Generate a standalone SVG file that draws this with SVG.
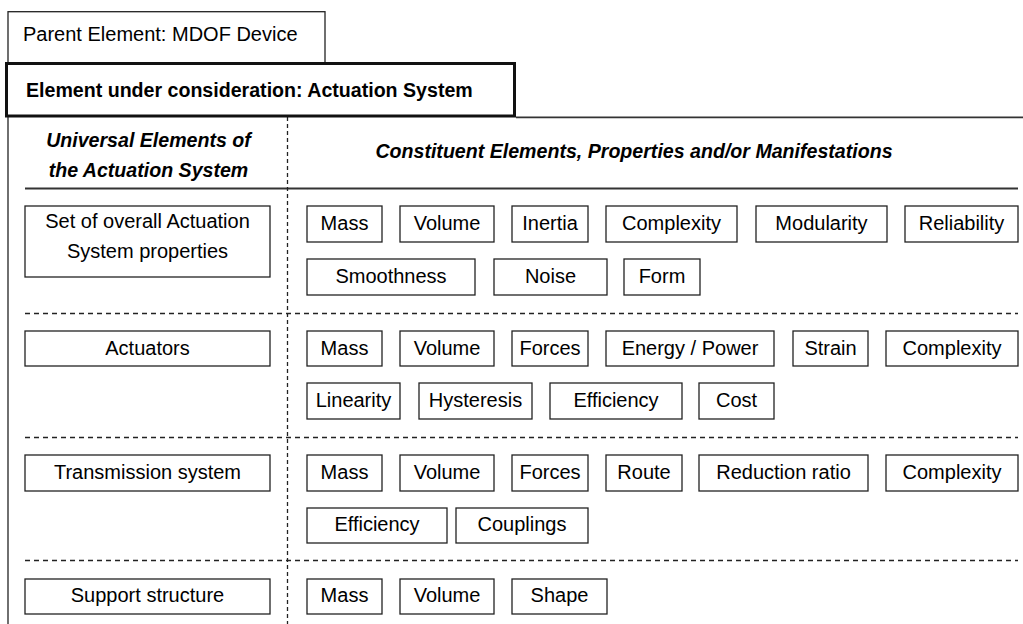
<svg xmlns="http://www.w3.org/2000/svg" width="1023" height="624" viewBox="0 0 1023 624">
<style>
  .bg{fill:#fff}
  .box{fill:#fff;stroke:#222;stroke-width:1.3}
  .thick{fill:#fff;stroke:#111;stroke-width:3}
  .t{font-family:"Liberation Sans",Arial,sans-serif;font-size:20px;fill:#000;text-anchor:middle}
  .tl{font-family:"Liberation Sans",Arial,sans-serif;font-size:20px;fill:#000}
  .b{font-family:"Liberation Sans",Arial,sans-serif;font-size:19.6px;font-weight:bold;fill:#000}
  .bi{font-family:"Liberation Sans",Arial,sans-serif;font-size:19.6px;font-weight:bold;font-style:italic;fill:#000;text-anchor:middle}
  .solid{stroke:#222;stroke-width:1.3;fill:none}
  .hline{stroke:#333;stroke-width:1.8;fill:none}
  .dashh{stroke:#222;stroke-width:1.3;stroke-dasharray:5 4;fill:none}
  .dashv{stroke:#222;stroke-width:1.3;stroke-dasharray:4 3;fill:none}
</style>
<rect class="bg" x="0" y="0" width="1023" height="624"/>

<g id="dividers">
  <line class="solid" x1="8" y1="117" x2="8" y2="624"/>
  <line class="hline" x1="516" y1="117.3" x2="1023" y2="117.3"/>
  <line class="hline" x1="25" y1="188.5" x2="1018" y2="188.5"/>
  <line class="dashv" x1="287.5" y1="117" x2="287.5" y2="624"/>
  <line class="dashh" x1="25" y1="313.5" x2="1018" y2="313.5"/>
  <line class="dashh" x1="25" y1="437.5" x2="1018" y2="437.5"/>
  <line class="dashh" x1="25" y1="560.5" x2="1018" y2="560.5"/>
</g>

<g id="parent-element">
  <rect class="box" x="8" y="11.7" width="317" height="52"/>
  <text class="tl" x="23" y="41">Parent Element: MDOF Device</text>
</g>

<g id="element-under-consideration">
  <rect class="thick" x="6.5" y="63.5" width="508" height="52.5"/>
  <text class="b" x="26" y="97">Element under consideration: Actuation System</text>
</g>

<g id="header-universal">
  <text class="bi" x="148.5" y="147">Universal Elements of</text>
  <text class="bi" x="148.5" y="177">the Actuation System</text>
</g>

<g id="header-constituent">
  <text class="bi" x="634" y="157.5">Constituent Elements, Properties and/or Manifestations</text>
</g>

<!-- Universal elements (left column) -->
<g id="overall-properties">
  <rect class="box" x="25" y="206" width="245" height="71"/>
  <text class="t" x="147.5" y="228">Set of overall Actuation</text>
  <text class="t" x="147.5" y="257.5">System properties</text>
</g>
<g id="actuators">
  <rect class="box" x="25" y="331" width="245" height="35"/>
  <text class="t" x="147.5" y="354.5">Actuators</text>
</g>
<g id="transmission-system">
  <rect class="box" x="25" y="455" width="245" height="36"/>
  <text class="t" x="147.5" y="478.5">Transmission system</text>
</g>
<g id="support-structure">
  <rect class="box" x="25" y="579" width="245" height="35"/>
  <text class="t" x="147.5" y="602">Support structure</text>
</g>

<!-- Row 1: overall properties -->
<g id="r1-mass"><rect class="box" x="307" y="206" width="75" height="36"/><text class="t" x="344.5" y="229.5">Mass</text></g>
<g id="r1-volume"><rect class="box" x="400" y="206" width="94" height="36"/><text class="t" x="447" y="229.5">Volume</text></g>
<g id="r1-inertia"><rect class="box" x="512" y="206" width="76" height="36"/><text class="t" x="550" y="229.5">Inertia</text></g>
<g id="r1-complexity"><rect class="box" x="606" y="206" width="131" height="36"/><text class="t" x="671.5" y="229.5">Complexity</text></g>
<g id="r1-modularity"><rect class="box" x="756" y="206" width="131" height="36"/><text class="t" x="821.5" y="229.5">Modularity</text></g>
<g id="r1-reliability"><rect class="box" x="905" y="206" width="113" height="36"/><text class="t" x="961.5" y="229.5">Reliability</text></g>
<g id="r1-smoothness"><rect class="box" x="307" y="259" width="168" height="36"/><text class="t" x="391" y="282.5">Smoothness</text></g>
<g id="r1-noise"><rect class="box" x="494" y="259" width="113" height="36"/><text class="t" x="550.5" y="282.5">Noise</text></g>
<g id="r1-form"><rect class="box" x="624" y="259" width="76" height="36"/><text class="t" x="662" y="282.5">Form</text></g>

<!-- Row 2: actuators -->
<g id="r2-mass"><rect class="box" x="307" y="331" width="75" height="35"/><text class="t" x="344.5" y="354.5">Mass</text></g>
<g id="r2-volume"><rect class="box" x="400" y="331" width="94" height="35"/><text class="t" x="447" y="354.5">Volume</text></g>
<g id="r2-forces"><rect class="box" x="512" y="331" width="76" height="35"/><text class="t" x="550" y="354.5">Forces</text></g>
<g id="r2-energy-power"><rect class="box" x="606" y="331" width="168" height="35"/><text class="t" x="690" y="354.5">Energy / Power</text></g>
<g id="r2-strain"><rect class="box" x="793" y="331" width="75" height="35"/><text class="t" x="830.5" y="354.5">Strain</text></g>
<g id="r2-complexity"><rect class="box" x="886" y="331" width="132" height="35"/><text class="t" x="952" y="354.5">Complexity</text></g>
<g id="r2-linearity"><rect class="box" x="307" y="383" width="93" height="36"/><text class="t" x="353.5" y="406.5">Linearity</text></g>
<g id="r2-hysteresis"><rect class="box" x="419" y="383" width="113" height="36"/><text class="t" x="475.5" y="406.5">Hysteresis</text></g>
<g id="r2-efficiency"><rect class="box" x="550" y="383" width="132" height="36"/><text class="t" x="616" y="406.5">Efficiency</text></g>
<g id="r2-cost"><rect class="box" x="699" y="383" width="75" height="36"/><text class="t" x="736.5" y="406.5">Cost</text></g>

<!-- Row 3: transmission system -->
<g id="r3-mass"><rect class="box" x="307" y="455" width="75" height="36"/><text class="t" x="344.5" y="478.5">Mass</text></g>
<g id="r3-volume"><rect class="box" x="400" y="455" width="94" height="36"/><text class="t" x="447" y="478.5">Volume</text></g>
<g id="r3-forces"><rect class="box" x="512" y="455" width="76" height="36"/><text class="t" x="550" y="478.5">Forces</text></g>
<g id="r3-route"><rect class="box" x="606" y="455" width="76" height="36"/><text class="t" x="644" y="478.5">Route</text></g>
<g id="r3-reduction-ratio"><rect class="box" x="699" y="455" width="169" height="36"/><text class="t" x="783.5" y="478.5">Reduction ratio</text></g>
<g id="r3-complexity"><rect class="box" x="886" y="455" width="132" height="36"/><text class="t" x="952" y="478.5">Complexity</text></g>
<g id="r3-efficiency"><rect class="box" x="307" y="508" width="140" height="35"/><text class="t" x="377" y="531">Efficiency</text></g>
<g id="r3-couplings"><rect class="box" x="456" y="508" width="132" height="35"/><text class="t" x="522" y="531">Couplings</text></g>

<!-- Row 4: support structure -->
<g id="r4-mass"><rect class="box" x="307" y="579" width="75" height="35"/><text class="t" x="344.5" y="602">Mass</text></g>
<g id="r4-volume"><rect class="box" x="400" y="579" width="94" height="35"/><text class="t" x="447" y="602">Volume</text></g>
<g id="r4-shape"><rect class="box" x="512" y="579" width="95" height="35"/><text class="t" x="559.5" y="602">Shape</text></g>
</svg>
